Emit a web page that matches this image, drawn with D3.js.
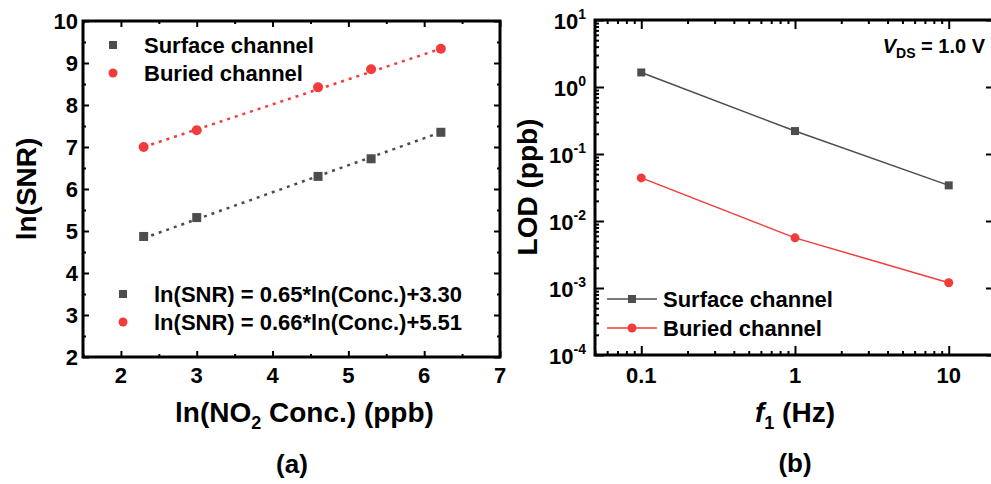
<!DOCTYPE html>
<html><head><meta charset="utf-8">
<script src="https://cdn.jsdelivr.net/npm/d3@7/dist/d3.min.js"></script>
<style>
body{margin:0;background:#fff;}
svg{display:block;font-family:"Liberation Sans",Arial,sans-serif;font-weight:bold;}
</style></head><body>
<svg id="c" width="991" height="484"></svg>
<script>
// ---- Panel (a) data ----
const lnConc = [2.3, 3.0, 4.6, 5.3, 6.22];
const surfaceSNR = [4.87, 5.32, 6.30, 6.72, 7.35];
const buriedSNR = [7.00, 7.40, 8.42, 8.85, 9.34];
const fitX = [2.3, 6.22];
const surfaceFit = [4.83, 7.35];
const buriedFit = [7.0, 9.34];
const aXTicks = [2, 3, 4, 5, 6, 7];
const aYTicks = [2, 3, 4, 5, 6, 7, 8, 9, 10];
const aLegend = ["Surface channel", "Buried channel"];
const aFitLegend = ["ln(SNR) = 0.65*ln(Conc.)+3.30", "ln(SNR) = 0.66*ln(Conc.)+5.51"];

// ---- Panel (b) data ----
const freq = [0.1, 1, 10];
const surfaceLOD = [1.65, 0.22, 0.034];
const buriedLOD = [0.044, 0.0056, 0.0012];
const bXTicks = [0.1, 1, 10];
const bXTickLabels = ["0.1", "1", "10"];
const bYTicks = [1e-4, 1e-3, 1e-2, 1e-1, 1, 10];
const bYExp = ["-4", "-3", "-2", "-1", "0", "1"];

const GRAY = "#4d4d4d", RED = "#f23c3c";
const svg = d3.select("#c");

function frameAxes(g, x, y, xMajor, xMinor, yMajor, yMinor, W0, W1, H0, H1, maj, mnr) {
  const mk = (axisFn, scale, vals, size, transform) => {
    const a = g.append("g").attr("transform", transform)
      .call(axisFn(scale).tickValues(vals).tickSize(size).tickFormat(""));
    a.select(".domain").remove();
    a.selectAll("line").attr("stroke", "#000").attr("stroke-width", 2);
  };
  mk(d3.axisBottom, x, xMajor, -maj, `translate(0,${H1})`);
  mk(d3.axisBottom, x, xMinor, -mnr, `translate(0,${H1})`);
  mk(d3.axisTop, x, xMajor, -maj, `translate(0,${H0})`);
  mk(d3.axisTop, x, xMinor, -mnr, `translate(0,${H0})`);
  mk(d3.axisLeft, y, yMajor, -maj, `translate(${W0},0)`);
  mk(d3.axisLeft, y, yMinor, -mnr, `translate(${W0},0)`);
  mk(d3.axisRight, y, yMajor, -maj, `translate(${W1},0)`);
  mk(d3.axisRight, y, yMinor, -mnr, `translate(${W1},0)`);
  g.append("rect").attr("x", W0).attr("y", H0).attr("width", W1 - W0).attr("height", H1 - H0)
    .attr("fill", "none").attr("stroke", "#000").attr("stroke-width", 3);
}

// ================= Panel (a) =================
{
  const x = d3.scaleLinear().domain([1.5, 7]).range([83, 500]);
  const y = d3.scaleLinear().domain([2, 10]).range([357, 21]);
  const g = svg.append("g");
  const xMinor = [1.5, 2.5, 3.5, 4.5, 5.5, 6.5];
  const yMinor = [2.5, 3.5, 4.5, 5.5, 6.5, 7.5, 8.5, 9.5];
  frameAxes(g, x, y, aXTicks, xMinor, aYTicks, yMinor, 83, 500, 21, 357, 6, 3);

  g.selectAll(".xl").data(aXTicks).join("text").attr("x", d => x(d)).attr("y", 383)
    .attr("text-anchor", "middle").attr("font-size", 22).text(d => d);
  g.selectAll(".yl").data(aYTicks).join("text").attr("x", 78).attr("y", d => y(d) + 8)
    .attr("text-anchor", "end").attr("font-size", 22).text(d => d);

  const line = d3.line().x(d => x(d[0])).y(d => y(d[1]));
  g.append("path").attr("d", line(d3.zip(fitX, surfaceFit))).attr("stroke", GRAY)
    .attr("stroke-width", 2.5).attr("stroke-dasharray", "3,5").attr("fill", "none");
  g.append("path").attr("d", line(d3.zip(fitX, buriedFit))).attr("stroke", RED)
    .attr("stroke-width", 2.5).attr("stroke-dasharray", "3,5").attr("fill", "none");

  g.selectAll(".sq").data(d3.zip(lnConc, surfaceSNR)).join("rect")
    .attr("x", d => x(d[0]) - 4.5).attr("y", d => y(d[1]) - 4.5).attr("width", 9).attr("height", 9).attr("fill", GRAY);
  g.selectAll(".ci").data(d3.zip(lnConc, buriedSNR)).join("circle")
    .attr("cx", d => x(d[0])).attr("cy", d => y(d[1])).attr("r", 5).attr("fill", RED);

  // legend top
  g.append("rect").attr("x", 109).attr("y", 41).attr("width", 8).attr("height", 8).attr("fill", GRAY);
  g.append("circle").attr("cx", 113).attr("cy", 73).attr("r", 4.5).attr("fill", RED);
  g.append("text").attr("x", 144).attr("y", 53).attr("font-size", 22).text(aLegend[0]);
  g.append("text").attr("x", 144).attr("y", 81).attr("font-size", 22).text(aLegend[1]);
  // legend fit
  g.append("rect").attr("x", 119).attr("y", 290).attr("width", 8).attr("height", 8).attr("fill", GRAY);
  g.append("circle").attr("cx", 123).attr("cy", 322).attr("r", 4.5).attr("fill", RED);
  g.append("text").attr("x", 154).attr("y", 302).attr("font-size", 22).text(aFitLegend[0]);
  g.append("text").attr("x", 154).attr("y", 330).attr("font-size", 22).text(aFitLegend[1]);

  // axis titles
  g.append("text").attr("transform", "translate(36,189) rotate(-90)").attr("text-anchor", "middle")
    .attr("font-size", 28).text("ln(SNR)");
  const t = g.append("text").attr("x", 175).attr("y", 422).attr("font-size", 28);
  t.append("tspan").text("ln(NO");
  t.append("tspan").attr("font-size", 18).attr("dy", 7).text("2");
  t.append("tspan").attr("dy", -7).text(" Conc.) (ppb)");
  g.append("text").attr("x", 292).attr("y", 473).attr("text-anchor", "middle").attr("font-size", 26).text("(a)");
}

// ================= Panel (b) =================
{
  const x = d3.scaleLog().domain([0.05, 20]).range([595, 995]);
  const y = d3.scaleLog().domain([1e-4, 10]).range([355, 20]);
  const g = svg.append("g");
  const xMinor = [], yMinor = [];
  [0.01, 0.1, 1, 10].forEach(dec => { for (let k = 2; k <= 9; k++) { const v = dec * k; if (v >= 0.05 && v <= 20) xMinor.push(v); } });
  [1e-4, 1e-3, 1e-2, 1e-1, 1].forEach(dec => { for (let k = 2; k <= 9; k++) yMinor.push(dec * k); });
  frameAxes(g, x, y, bXTicks, xMinor, bYTicks, yMinor, 595, 995, 20, 355, 9, 4);

  g.selectAll(".xl").data(bXTicks).join("text").attr("x", d => x(d)).attr("y", 383)
    .attr("text-anchor", "middle").attr("font-size", 22).text((d, i) => bXTickLabels[i]);
  const yl = g.selectAll(".yl").data(bYTicks).join("text").attr("x", 586).attr("y", d => y(d) + 9)
    .attr("text-anchor", "end").attr("font-size", 22);
  yl.append("tspan").text("10");
  yl.append("tspan").attr("font-size", 14).attr("dy", -10).text((d, i) => bYExp[i]);

  const line = d3.line().x(d => x(d[0])).y(d => y(d[1]));
  g.append("path").attr("d", line(d3.zip(freq, surfaceLOD))).attr("stroke", GRAY).attr("stroke-width", 1.5).attr("fill", "none");
  g.append("path").attr("d", line(d3.zip(freq, buriedLOD))).attr("stroke", RED).attr("stroke-width", 1.5).attr("fill", "none");
  g.selectAll(".sq").data(d3.zip(freq, surfaceLOD)).join("rect")
    .attr("x", d => x(d[0]) - 4).attr("y", d => y(d[1]) - 4).attr("width", 8).attr("height", 8).attr("fill", GRAY);
  g.selectAll(".ci").data(d3.zip(freq, buriedLOD)).join("circle")
    .attr("cx", d => x(d[0])).attr("cy", d => y(d[1])).attr("r", 4.5).attr("fill", RED);

  // legend
  g.append("line").attr("x1", 607).attr("x2", 657).attr("y1", 299).attr("y2", 299).attr("stroke", GRAY).attr("stroke-width", 1.5);
  g.append("rect").attr("x", 628).attr("y", 295).attr("width", 8).attr("height", 8).attr("fill", GRAY);
  g.append("line").attr("x1", 607).attr("x2", 657).attr("y1", 328).attr("y2", 328).attr("stroke", RED).attr("stroke-width", 1.5);
  g.append("circle").attr("cx", 632).attr("cy", 328).attr("r", 4.5).attr("fill", RED);
  g.append("text").attr("x", 663).attr("y", 307).attr("font-size", 22).text(aLegend[0]);
  g.append("text").attr("x", 663).attr("y", 336).attr("font-size", 22).text(aLegend[1]);

  // VDS annotation
  const v = g.append("text").attr("x", 985).attr("y", 53).attr("text-anchor", "end").attr("font-size", 20);
  v.append("tspan").attr("font-style", "italic").text("V");
  v.append("tspan").attr("font-size", 14).attr("dy", 5).text("DS");
  v.append("tspan").attr("dy", -5).text(" = 1.0 V");

  // axis titles
  g.append("text").attr("transform", "translate(537,187) rotate(-90)").attr("text-anchor", "middle")
    .attr("font-size", 28).text("LOD (ppb)");
  const t = g.append("text").attr("x", 755).attr("y", 422).attr("font-size", 28);
  t.append("tspan").attr("font-style", "italic").text("f");
  t.append("tspan").attr("font-size", 18).attr("dy", 7).text("1");
  t.append("tspan").attr("dy", -7).text(" (Hz)");
  g.append("text").attr("x", 795).attr("y", 472).attr("text-anchor", "middle").attr("font-size", 26).text("(b)");
}
</script>
</body></html>
